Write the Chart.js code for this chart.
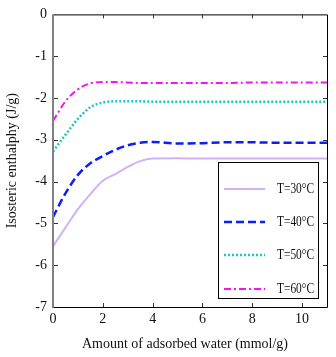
<!DOCTYPE html>
<html>
<head>
<meta charset="utf-8">
<script src="https://cdn.jsdelivr.net/npm/chart.js@4"></script>
<style>
  html, body { margin: 0; padding: 0; background: #fff; }
  #wrap { width: 336px; height: 357px; }
</style>
</head>
<body>
<div id="wrap"><canvas id="chart"></canvas></div>
<script>
// amount of adsorbed water (mmol/g)
const xVals = [0, 0.5, 1, 1.5, 2, 2.5, 3, 3.5, 4, 5, 6, 7, 8, 9, 10, 11];
// isosteric enthalpy (J/g) for each temperature
const t30 = [-5.55, -5.1, -4.66, -4.3, -3.98, -3.82, -3.65, -3.51, -3.45, -3.44, -3.45, -3.45, -3.45, -3.45, -3.45, -3.45];
const t40 = [-4.85, -4.28, -3.84, -3.56, -3.39, -3.24, -3.13, -3.07, -3.05, -3.09, -3.08, -3.06, -3.06, -3.07, -3.07, -3.07];
const t50 = [-3.28, -2.88, -2.5, -2.22, -2.11, -2.08, -2.08, -2.08, -2.09, -2.09, -2.09, -2.09, -2.09, -2.09, -2.09, -2.09];
const t60 = [-2.55, -2.08, -1.79, -1.65, -1.62, -1.62, -1.63, -1.64, -1.64, -1.64, -1.64, -1.64, -1.63, -1.63, -1.63, -1.63];
const seriesNames = ['T=30°C', 'T=40°C', 'T=50°C', 'T=60°C'];
const xTicks = [0, 2, 4, 6, 8, 10];
const yTicks = [0, -1, -2, -3, -4, -5, -6, -7];
const xTitle = 'Amount of adsorbed water (mmol/g)';

const FONT = 'Liberation Serif, Times New Roman, serif';

function pts(arr) {
  return arr.map((v, i) => ({ x: xVals[i], y: v }));
}

const styles = [
  { color: '#d4b0f6', dash: [], width: 2 },
  { color: '#0a1ef5', dash: [8, 4], width: 2.5 },
  { color: '#1ec3c3', dash: [2, 2], width: 2.5 },
  { color: '#f514f0', dash: [7, 3, 2, 3], width: 2 }
];
const allSeries = [t30, t40, t50, t60];

// frame, inward ticks, x title and boxed legend
const framePlugin = {
  id: 'frame',
  afterDraw(chart) {
    const ctx = chart.ctx;
    const a = chart.chartArea;
    const xs = chart.scales.x, ys = chart.scales.y;
    ctx.save();
    ctx.setLineDash([]);
    ctx.strokeStyle = '#000';
    ctx.lineWidth = 1;
    ctx.beginPath();
    ctx.moveTo(a.left, a.top + 0.5); ctx.lineTo(a.right + 0.5, a.top + 0.5);
    ctx.lineTo(a.right + 0.5, a.bottom + 0.5); ctx.lineTo(a.left, a.bottom + 0.5);
    ctx.stroke();
    ctx.strokeStyle = '#808080';
    ctx.lineWidth = 2;
    ctx.beginPath();
    ctx.moveTo(a.left, a.top); ctx.lineTo(a.left, a.bottom + 1);
    ctx.stroke();

    ctx.strokeStyle = '#333';
    ctx.lineWidth = 1;
    ctx.beginPath();
    xTicks.forEach(v => {
      if (v === 0) return;
      const px = Math.round(xs.getPixelForValue(v)) + 0.5;
      ctx.moveTo(px, a.bottom); ctx.lineTo(px, a.bottom - 4);
      ctx.moveTo(px, a.top); ctx.lineTo(px, a.top + 4);
    });
    yTicks.forEach(v => {
      if (v === 0 || v === -7) return;
      const py = Math.round(ys.getPixelForValue(v)) + 0.5;
      ctx.moveTo(a.left + 1, py); ctx.lineTo(a.left + 5, py);
      ctx.moveTo(a.right, py); ctx.lineTo(a.right - 4, py);
    });
    ctx.stroke();

    // x axis title, slightly left of centre like the original
    ctx.font = '14px ' + FONT;
    ctx.fillStyle = '#111';
    ctx.textAlign = 'center';
    ctx.textBaseline = 'middle';
    ctx.fillText(xTitle, 185, 344);

    // legend box
    const bx = 218, by = 162, bw = 100, bh = 136;
    ctx.fillStyle = '#fff';
    ctx.fillRect(bx, by, bw, bh);
    ctx.strokeStyle = '#000';
    ctx.lineWidth = 1;
    ctx.strokeRect(bx + 0.5, by + 0.5, bw, bh);
    const rows = [189, 222, 255, 289];
    ctx.font = '14px ' + FONT;
    ctx.textBaseline = 'middle';
    ctx.textAlign = 'left';
    seriesNames.forEach((name, i) => {
      const s = styles[i];
      ctx.strokeStyle = s.color;
      ctx.lineWidth = s.width;
      ctx.setLineDash(s.dash);
      ctx.beginPath();
      ctx.moveTo(224, rows[i]); ctx.lineTo(265, rows[i]);
      ctx.stroke();
      ctx.setLineDash([]);
      ctx.fillStyle = '#111';
      // the original labels are set narrow, squeeze to ~37px
      const w = ctx.measureText(name).width;
      ctx.save();
      ctx.translate(277, rows[i]);
      ctx.scale(37 / w, 1);
      ctx.fillText(name, 0, 0);
      ctx.restore();
    });
    ctx.restore();
  }
};

new Chart(document.getElementById('chart'), {
  type: 'line',
  data: {
    datasets: allSeries.map((arr, i) => ({
      label: seriesNames[i],
      data: pts(arr),
      borderColor: styles[i].color,
      borderDash: styles[i].dash,
      borderWidth: styles[i].width,
      pointRadius: 0,
      fill: false,
      cubicInterpolationMode: 'monotone'
    }))
  },
  options: {
    responsive: true,
    maintainAspectRatio: false,
    animation: false,
    layout: { padding: { top: 8, right: 9, left: 0, bottom: 0 } },
    plugins: { legend: { display: false }, tooltip: { enabled: false } },
    scales: {
      x: {
        type: 'linear',
        min: 0, max: 11,
        grid: { display: false, drawTicks: false },
        border: { display: false },
        afterFit(scale) { scale.height = 50; },
        ticks: {
          stepSize: 2, includeBounds: false, padding: 4,
          color: '#111', font: { family: FONT, size: 14 },
          maxRotation: 0
        },
        title: { display: false }
      },
      y: {
        min: -7, max: 0,
        grid: { display: false, drawTicks: false },
        border: { display: false },
        afterFit(scale) { scale.width = 53; },
        ticks: {
          stepSize: 1, padding: 6,
          color: '#111', font: { family: FONT, size: 14 },
          callback: v => String(v)
        },
        title: {
          display: true, text: 'Isosteric enthalphy (J/g)',
          color: '#111', font: { family: FONT, size: 14 },
          padding: { top: 4, bottom: 0 }
        }
      }
    }
  },
  plugins: [framePlugin]
});
</script>
</body>
</html>
